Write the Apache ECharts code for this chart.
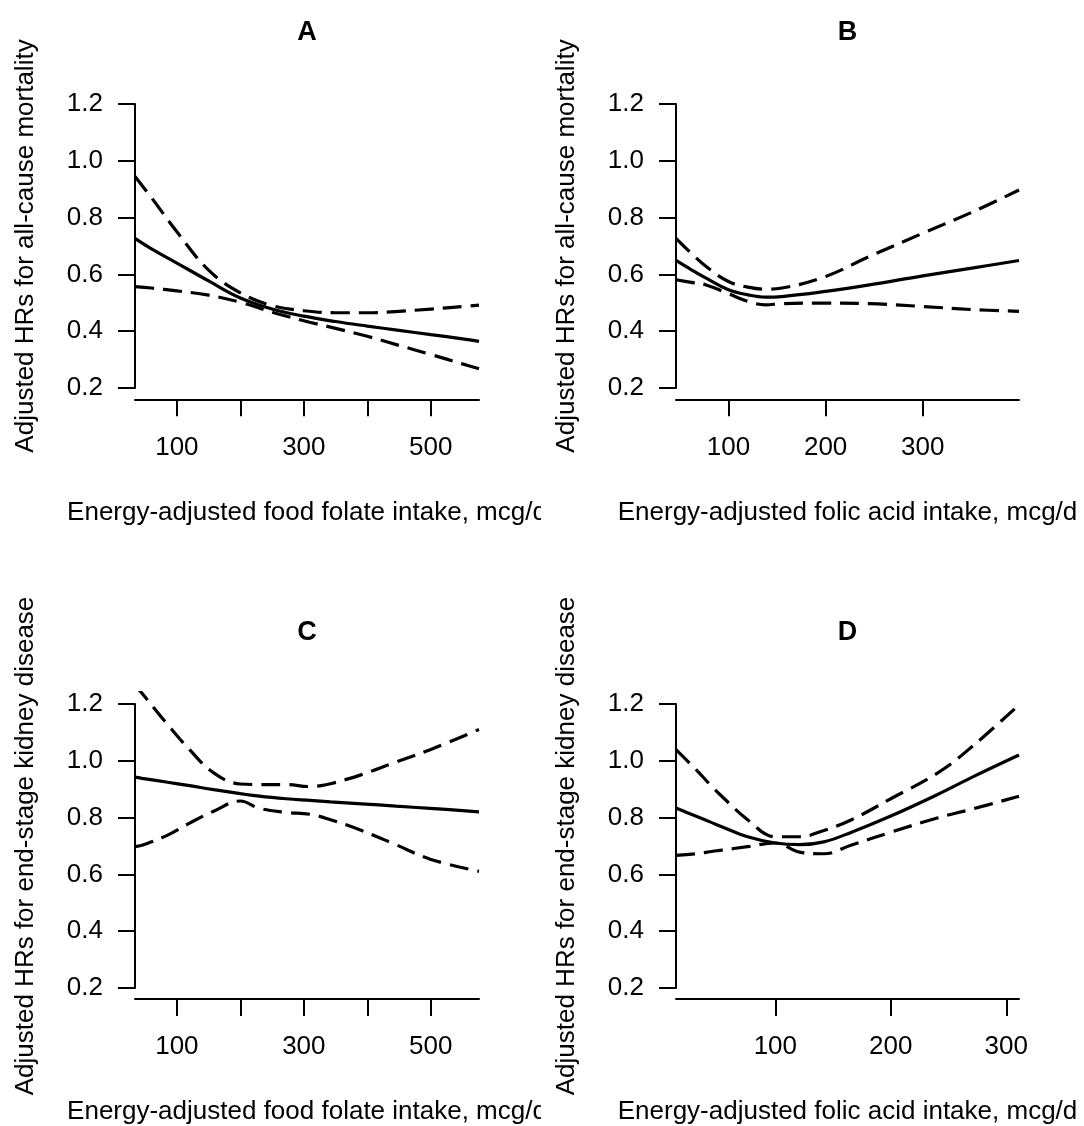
<!DOCTYPE html>
<html><head><meta charset="utf-8">
<script src="https://cdn.jsdelivr.net/npm/echarts@6/dist/echarts.min.js"></script>
<style>html,body{margin:0;padding:0;background:#fff}#c{width:1084px;height:1126px}</style>
</head><body><div id="c"></div>
<script>
// ---------- data ----------
const panelTitles = ['A', 'B', 'C', 'D'];
const yTitleMort = 'Adjusted HRs for all-cause mortality';
const yTitleKid = 'Adjusted HRs for end-stage kidney disease';
const xTitleFood = 'Energy-adjusted food folate intake, mcg/d';
const xTitleFolic = 'Energy-adjusted folic acid intake, mcg/d';
const yTickValues = [0.2, 0.4, 0.6, 0.8, 1.0, 1.2];

const xTicksFood = [100, 200, 300, 400, 500];
const xLabelsFood = [100, 300, 500];
const xTicksFolic = [100, 200, 300];
const xLabelsFolic = [100, 200, 300];

// Panel A: food folate, all-cause mortality
const xA = [34, 60, 100, 150, 200, 250, 300, 350, 400, 450, 500, 550, 576];
const aFit = [0.727, 0.69, 0.64, 0.577, 0.517, 0.478, 0.453, 0.434, 0.418, 0.403, 0.388, 0.373, 0.364];
const aUpper = [0.945, 0.87, 0.75, 0.615, 0.535, 0.49, 0.472, 0.465, 0.465, 0.47, 0.478, 0.487, 0.492];
const aLower = [0.557, 0.552, 0.542, 0.527, 0.502, 0.467, 0.437, 0.41, 0.382, 0.35, 0.318, 0.285, 0.268];

// Panel B: folic acid, all-cause mortality
const xB = [46, 60, 77, 100, 120, 138, 155, 200, 245, 300, 352, 399];
const bFit = [0.649, 0.62, 0.587, 0.546, 0.528, 0.52, 0.522, 0.54, 0.563, 0.595, 0.623, 0.649];
const bUpper = [0.727, 0.68, 0.628, 0.575, 0.555, 0.548, 0.552, 0.593, 0.663, 0.745, 0.821, 0.897];
const bLower = [0.581, 0.573, 0.563, 0.532, 0.505, 0.493, 0.497, 0.499, 0.497, 0.487, 0.476, 0.47];

// Panel C: food folate, ESKD
const xC = [34, 45, 83, 120, 158, 200, 230, 272, 310, 342, 391, 445, 499, 576];
const cFit = [0.942, 0.938, 0.925, 0.912, 0.898, 0.884, 0.875, 0.866, 0.86, 0.855, 0.848, 0.84, 0.832, 0.82];
const cUpper = [1.265, 1.238, 1.134, 1.039, 0.957, 0.918, 0.916, 0.916, 0.909, 0.919, 0.951, 0.995, 1.039, 1.11];
const cLower = [0.697, 0.702, 0.735, 0.78, 0.822, 0.858, 0.832, 0.818, 0.811, 0.792, 0.754, 0.704, 0.653, 0.61];

// Panel D: folic acid, ESKD
const xD = [14, 31, 46, 52, 76, 100, 121, 142, 166, 200, 241, 271, 311];
const dFit = [0.833, 0.805, 0.78, 0.77, 0.732, 0.71, 0.704, 0.714, 0.748, 0.805, 0.882, 0.943, 1.02];
const dUpper = [1.039, 0.97, 0.905, 0.881, 0.792, 0.732, 0.732, 0.754, 0.792, 0.866, 0.958, 1.052, 1.197];
const dLower = [0.666, 0.672, 0.681, 0.684, 0.697, 0.71, 0.678, 0.672, 0.703, 0.748, 0.799, 0.83, 0.875];

// ---------- layout / style ----------
const FONT = '"Liberation Sans", Arial, Helvetica, sans-serif';
const FS = 26;
const pxPerUnit = 284;           // pixels per 1.0 HR
const yPad = 0.04;               // R-style 4% range expansion
const panels = [
  {title: panelTitles[0], x: xA, fit: aFit, up: aUpper, lo: aLower, xmin: 34, xmax: 576, ticks: xTicksFood, labels: xLabelsFood, yT: yTitleMort, xT: xTitleFood, left: 135, width: 344, top12: 104, clip: true},
  {title: panelTitles[1], x: xB, fit: bFit, up: bUpper, lo: bLower, xmin: 46, xmax: 399, ticks: xTicksFolic, labels: xLabelsFolic, yT: yTitleMort, xT: xTitleFolic, left: 676, width: 343, top12: 104, clip: false},
  {title: panelTitles[2], x: xC, fit: cFit, up: cUpper, lo: cLower, xmin: 34, xmax: 576, ticks: xTicksFood, labels: xLabelsFood, yT: yTitleKid, xT: xTitleFood, left: 135, width: 344, top12: 704, clip: true},
  {title: panelTitles[3], x: xD, fit: dFit, up: dUpper, lo: dLower, xmin: 14, xmax: 311, ticks: xTicksFolic, labels: xLabelsFolic, yT: yTitleKid, xT: xTitleFolic, left: 676, width: 343, top12: 704, clip: false}
];

const grid = [], xAxis = [], yAxis = [], series = [], graphic = [];
const axisColor = '#000';
panels.forEach((p, i) => {
  const gi = 2 * i;
  const padPx = yPad * pxPerUnit;
  grid.push({left: p.left, width: p.width, top: p.top12 - padPx, height: pxPerUnit + 2 * padPx});
  grid.push({left: p.left, width: p.width, top: p.top12, height: pxPerUnit});
  xAxis.push({
    type: 'value', gridIndex: gi, min: p.xmin, max: p.xmax,
    axisLine: {show: true, onZero: false, lineStyle: {color: axisColor, width: 2}},
    axisTick: {show: true, customValues: p.ticks, length: 17, lineStyle: {color: axisColor, width: 2}},
    axisLabel: {show: true, customValues: p.labels, margin: 35, color: '#000', fontSize: FS, fontFamily: FONT},
    splitLine: {show: false},
    name: p.xT, nameLocation: 'middle', nameGap: 100,
    nameTextStyle: {color: '#000', fontSize: FS, fontFamily: FONT}
  });
  yAxis.push({type: 'value', gridIndex: gi, min: 0.2 - yPad, max: 1.2 + yPad, show: false});
  xAxis.push({type: 'value', gridIndex: gi + 1, min: p.xmin, max: p.xmax, show: false});
  yAxis.push({
    type: 'value', gridIndex: gi + 1, min: 0.2, max: 1.2, interval: 0.2,
    axisLine: {show: true, lineStyle: {color: axisColor, width: 2}},
    axisTick: {show: true, length: 17, lineStyle: {color: axisColor, width: 2}},
    axisLabel: {show: true, margin: 32, color: '#000', fontSize: FS, fontFamily: FONT, formatter: v => v.toFixed(1)},
    splitLine: {show: false},
    name: p.yT, nameLocation: 'middle', nameGap: 96, nameRotate: 90,
    nameTextStyle: {color: '#000', fontSize: FS, fontFamily: FONT}
  });
  const mk = (ys, dashed) => ({
    type: 'line', xAxisIndex: gi, yAxisIndex: gi, silent: true, clip: true,
    showSymbol: false, symbol: 'none', smooth: 0.4,
    data: p.x.map((xv, k) => [xv, ys[k]]),
    lineStyle: {color: '#000', width: 3.2, type: dashed ? [19, 9] : 'solid', cap: 'butt'}
  });
  series.push(mk(p.fit, false), mk(p.up, true), mk(p.lo, true));
  graphic.push({
    type: 'text', x: p.left + p.width / 2, y: p.top12 - 71.5, z: 10,
    style: {text: p.title, fontSize: 27, fontWeight: 'bold', fontFamily: FONT, fill: '#000', textAlign: 'center', textVerticalAlign: 'middle'}
  });
  if (p.clip) {
    graphic.push({type: 'rect', x: 541, y: p.top12 + 390, z: 100, shape: {width: 30, height: 50}, style: {fill: '#fff'}});
  }
});

const chart = echarts.init(document.getElementById('c'), null, {renderer: 'canvas'});
chart.setOption({
  animation: false, backgroundColor: '#fff',
  grid, xAxis, yAxis, series, graphic
});
</script></body></html>
